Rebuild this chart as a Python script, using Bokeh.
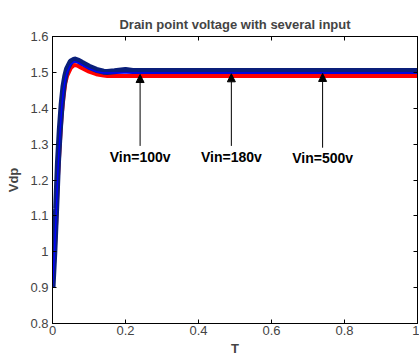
from bokeh.plotting import figure
from bokeh.models import LinearAxis, FixedTicker, Arrow, NormalHead, ColumnDataSource, Range1d
from bokeh.core.properties import value
from bokeh.embed import file_html
from bokeh.resources import INLINE

# Time axis (s, normalized)
t = [0, 0.005, 0.01, 0.015, 0.02, 0.025, 0.03, 0.035, 0.04, 0.05, 0.06, 0.07, 0.08,
     0.10, 0.12, 0.14, 0.15, 0.17, 0.20, 0.22, 0.30, 0.50, 0.70, 1.0]
# Drain point voltage for each input
v_navy = [0.90, 1.00, 1.12, 1.25, 1.34, 1.41, 1.46, 1.49, 1.51, 1.53, 1.536, 1.533, 1.527,
          1.516, 1.507, 1.502, 1.501, 1.503, 1.507, 1.504, 1.504, 1.504, 1.504, 1.504]
v_blue = [0.90, 0.99, 1.10, 1.23, 1.32, 1.40, 1.45, 1.48, 1.50, 1.522, 1.530, 1.527, 1.521,
          1.510, 1.502, 1.498, 1.498, 1.498, 1.498, 1.498, 1.498, 1.498, 1.498, 1.498]
v_red = [0.90, 0.98, 1.08, 1.21, 1.30, 1.38, 1.43, 1.47, 1.49, 1.512, 1.521, 1.518, 1.512,
         1.502, 1.495, 1.491, 1.490, 1.490, 1.490, 1.490, 1.490, 1.490, 1.490, 1.490]

labels = ["Vin=100v", "Vin=180v", "Vin=500v"]
label_x = [0.24, 0.49, 0.74]
label_y = [1.265, 1.265, 1.26]
arrow_tail = [1.295, 1.295, 1.29]
arrow_head = [1.494, 1.496, 1.497]

x_ticks = [0, 0.2, 0.4, 0.6, 0.8, 1]
y_ticks = [0.8, 0.9, 1.0, 1.1, 1.2, 1.3, 1.4, 1.5, 1.6]

p = figure(width=419, height=358, output_backend="svg", toolbar_location=None,
           x_range=Range1d(0, 1), y_range=Range1d(0.8, 1.6),
           min_border_left=52, min_border_right=2, min_border_top=36, min_border_bottom=30,
           title="Drain point voltage with several input")
p.title.align = "center"
p.title.text_font = "Liberation Sans"
p.title.text_font_size = "13px"
p.title.text_font_style = "bold"
p.title.offset = 0
p.title.standoff = 9

p.grid.visible = False
p.outline_line_color = "black"
p.outline_line_width = 1

for ax in (p.xaxis[0], p.yaxis[0]):
    ax.major_tick_in = 4
    ax.major_tick_out = 0
    ax.minor_tick_line_color = None
    ax.major_label_text_font = "Liberation Sans"
    ax.major_label_text_font_size = "13px"
    ax.axis_label_text_font = "Liberation Sans"
    ax.axis_label_text_font_size = "13px"
    ax.axis_label_text_font_style = "bold"
    ax.axis_line_color = "black"
p.xaxis[0].ticker = FixedTicker(ticks=x_ticks)
p.yaxis[0].ticker = FixedTicker(ticks=y_ticks)
p.xaxis[0].major_label_overrides = {0: "0", 1: "1"}
p.yaxis[0].major_label_overrides = {1.0: "1"}
p.xaxis[0].axis_label = "T"
p.yaxis[0].axis_label = "Vdp"
p.xaxis[0].major_label_standoff = 2
p.xaxis[0].axis_label_standoff = 3
p.yaxis[0].major_label_standoff = 4
p.yaxis[0].axis_label_standoff = 6

right = LinearAxis(ticker=FixedTicker(ticks=y_ticks), major_tick_in=4, major_tick_out=0,
                   minor_tick_line_color=None, major_label_standoff=0,
                   major_label_overrides={tk: "" for tk in y_ticks})
top = LinearAxis(ticker=FixedTicker(ticks=x_ticks), major_tick_in=4, major_tick_out=0,
                 minor_tick_line_color=None, major_label_standoff=0,
                 major_label_overrides={tk: "" for tk in x_ticks})
p.add_layout(right, "right")
p.add_layout(top, "above")

p.line(t, v_red, line_color="red", line_width=4)
p.line(t, v_navy, line_color="#0a1f7a", line_width=6)
p.line(t, v_blue, line_color="blue", line_width=1.5)

for x, y0, y1 in zip(label_x, arrow_tail, arrow_head):
    p.add_layout(Arrow(x_start=x, y_start=y0, x_end=x, y_end=y1, line_color="black", line_width=1,
                       end=NormalHead(size=8, fill_color="black", line_color="black")))

src = ColumnDataSource(dict(x=label_x, y=label_y, text=labels))
p.text(x="x", y="y", text="text", source=src, text_align="center", text_baseline="middle",
       text_font=value("Liberation Sans"), text_font_size="14px", text_font_style="bold",
       text_color="black")

open("out.html", "w").write(file_html(p, INLINE))
